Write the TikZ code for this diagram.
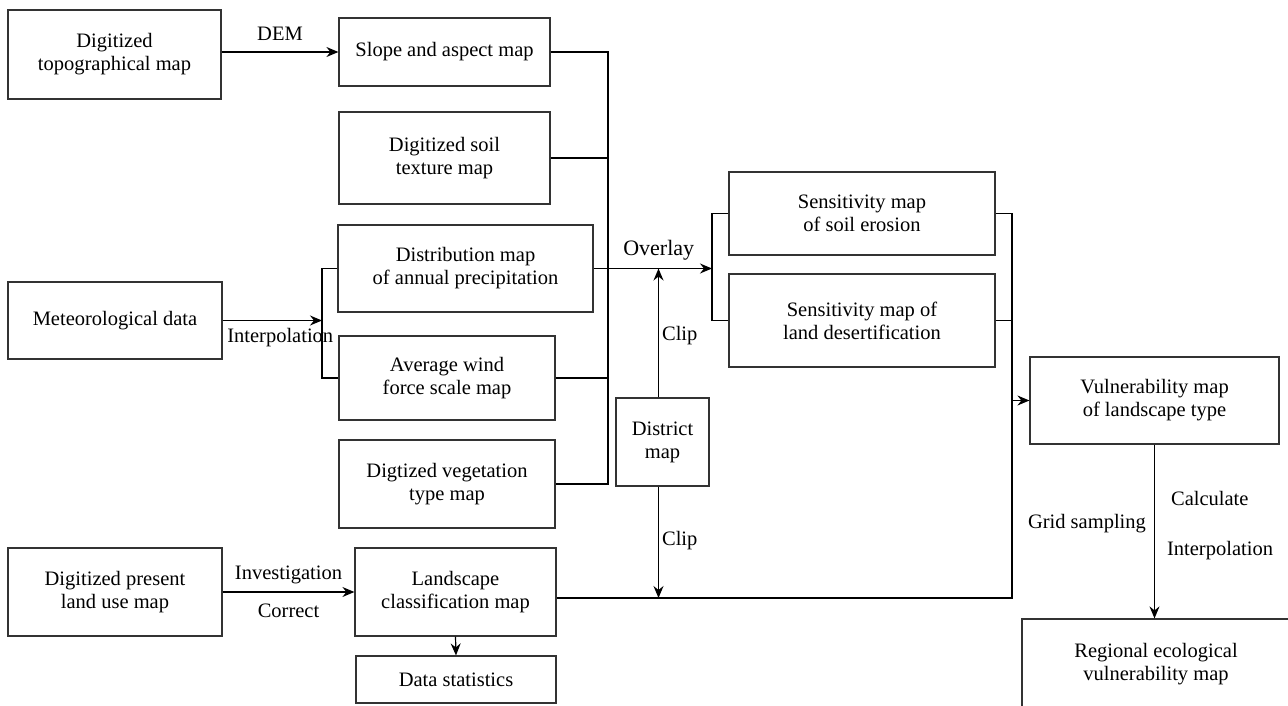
\documentclass[tikz,border=0pt]{standalone}
\usepackage{fontspec}
\setmainfont{Liberation Serif}
\usetikzlibrary{arrows.meta}
\newcommand{\fB}{\fontsize{20.5}{23}\selectfont}
\newcommand{\fO}{\fontsize{22}{24}\selectfont}
\tikzset{every node/.style={font=\fB},
  mapbox/.style={draw=black!80,fill=white,line width=1.2pt,align=center,inner sep=2pt},
  lbl/.style={inner sep=2pt}}
\newcommand{\boxat}[6]{%
  \node[mapbox,minimum width=#4pt,minimum height=#5pt] (#1) at (#2,#3) {#6};}

\begin{document}
\begin{tikzpicture}[x=1pt,y=-1pt,
    lnk/.style={draw=black,line width=1.2pt},
    arr/.style={lnk,-{Stealth[length=12pt,width=10pt,inset=4pt]}}]
  \path[use as bounding box] (0,0) rectangle (1288,706);

  % Source data
  \boxat{topo}{114.5}{54.5}{213}{89}{Digitized\\topographical map}
  \boxat{met}{115}{320.5}{214}{77}{Meteorological data}
  \boxat{landuse}{115}{592}{214}{88}{Digitized present\\land use map}

  % Thematic maps
  \boxat{slope}{444.5}{52}{211}{68}{Slope and aspect map}
  \boxat{soil}{444.5}{158}{211}{92}{Digitized soil\\texture map}
  \boxat{distr}{465.5}{268.5}{255}{87}{Distribution map\\of annual precipitation}
  \boxat{wind}{447}{378}{216}{84}{Average wind\\force scale map}
  \boxat{veg}{447}{484}{216}{88}{Digtized vegetation\\type map}
  \boxat{land}{455.5}{592}{201}{88}{Landscape\\classification map}
  \boxat{stats}{456}{679.5}{200}{47}{Data statistics}
  \boxat{district}{662.5}{442}{93}{88}{District\\map}

  % Results
  \boxat{eros}{862}{213.5}{266}{83}{Sensitivity map\\of soil erosion}
  \boxat{desert}{862}{320.5}{266}{93}{Sensitivity map of\\land desertification}
  \boxat{vuln}{1154.5}{400.5}{249}{87}{Vulnerability map\\of landscape type}
  \boxat{region}{1156}{664}{268}{90}{Regional ecological\\vulnerability map}

  % Collector lines
  \coordinate (bus) at (608,0);
  \coordinate (mbr) at (322,0);
  \coordinate (lbr) at (712,0);
  \coordinate (rbr) at (1012,0);
  \coordinate (lrow) at ([yshift=-6pt]land.east);

  \draw[arr] (topo.east |- slope.west) -- node[lbl,above=9pt] {DEM} (slope.west);
  \draw[arr] (met.east) -- node[lbl,below=5pt,pos=0.58] {Interpolation} (mbr |- met.east);
  \draw[lnk] (distr.west) -| (mbr |- wind.west) -- (wind.west);

  \draw[lnk] (slope.east) -| (bus |- veg.east) -- (veg.east);
  \draw[lnk] (soil.east) -- (soil.east -| bus);
  \draw[lnk] (wind.east) -- (wind.east -| bus);

  \draw[arr] (distr.east) -- node[lbl,above=6pt,pos=0.55,font=\fO] {Overlay} (lbr |- distr.east);
  \draw[lnk] (eros.west) -| (lbr |- desert.west) -- (desert.west);

  \draw[arr] ([xshift=-4pt]district.north) -- node[lbl,right=1pt,pos=0.48] {Clip}
    ([xshift=-4pt]district.north |- distr.east);
  \draw[arr] ([xshift=-4pt]district.south) -- node[lbl,right=1pt,pos=0.48] {Clip}
    ([xshift=-4pt]district.south |- lrow);

  \draw[arr] (landuse.east) -- node[lbl,above=5pt] {Investigation}
    node[lbl,below=9pt] {Correct} (land.west);
  \draw[arr] (land.south) -- (stats.north);

  % Landscape row and the right collector
  \draw[lnk] (lrow) -| (rbr |- eros.east) -- (eros.east);
  \draw[lnk] (desert.east) -- (desert.east -| rbr);
  \draw[arr] (rbr |- vuln.west) -- (vuln.west);

  \draw[arr] (vuln.south) --
    node[lbl,left=6pt,pos=0.455] {Grid sampling}
    node[lbl,right=14pt,pos=0.31] {Calculate}
    node[lbl,right=10pt,pos=0.61] {Interpolation}
    (vuln.south |- region.north);
\end{tikzpicture}
\end{document}
